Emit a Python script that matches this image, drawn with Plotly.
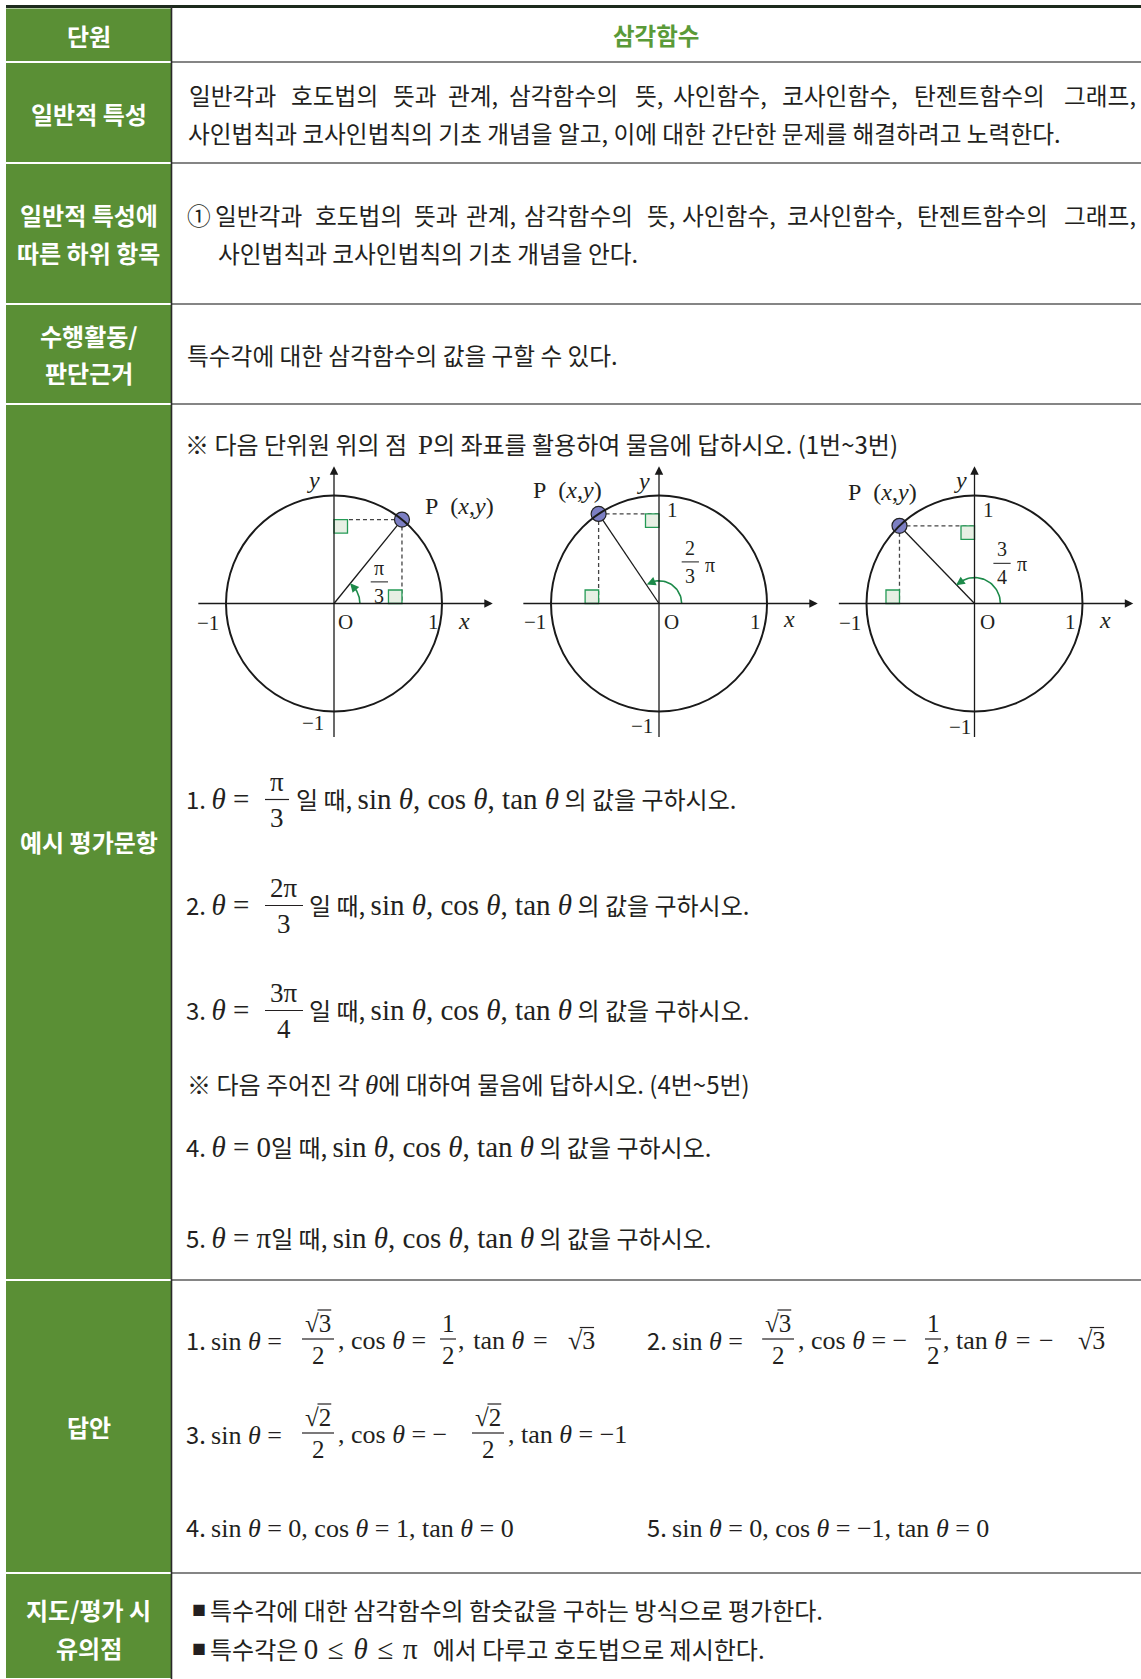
import numpy as np
import plotly.graph_objects as go

W, H = 1141, 1679

# ---------------------------------------------------------------- data
unit_title = "삼각함수"
row_bounds = [7.5, 62, 163, 304, 404, 1280, 1573, 1679]
row_labels = [["단원"], ["일반적 특성"], ["일반적 특성에", "따른 하위 항목"],
              ["수행활동/", "판단근거"], ["예시 평가문항"], ["답안"], ["지도/평가 시", "유의점"]]
label_y = [[35], [113.5], [214, 252.5], [335, 372.5], [841], [1426], [1609, 1647]]

general_line1 = ["일반각과", "호도법의", "뜻과", "관계,", "삼각함수의", "뜻,", "사인함수,",
                 "코사인함수,", "탄젠트함수의", "그래프,"]
general_line2 = "사인법칙과 코사인법칙의 기초 개념을 알고, 이에 대한 간단한 문제를 해결하려고 노력한다."
sub_line1 = ["①"] + general_line1
sub_line2 = "사인법칙과 코사인법칙의 기초 개념을 안다."
activity = "특수각에 대한 삼각함수의 값을 구할 수 있다."

# unit circle diagrams: angle of P as drawn (deg), angle label fraction
p_angle_deg = [51, 124, 134]
angle_num = ["π", "2", "3"]
angle_den = ["3", "3", "4"]
angle_has_pi = [False, True, True]
show_y_one = [False, True, True]

question_num = ["π", "2π", "3π"]
question_den = ["3", "3", "4"]

FONT = "Noto Sans CJK KR"
SERIF = "Liberation Serif"
GREEN = "#5a8f35"
TXT = "#231f20"
KS = 23.7   # korean body size
QK = 24     # korean size in question lines
QS = 29     # math size in questions
AS = 26     # math size in answers
S3 = "\u2004"  # three-per-em space

fig = go.Figure()
shapes = []
ann = []


def m(s, size=QS):
    return '<span style="font-family:%s;font-size:%spx">%s</span>' % (SERIF, size, s)


def txt(x, y, s, size=KS, anchor="left", color=TXT, family=FONT, xref="x", yref="y"):
    ann.append(dict(x=x, y=y, xref=xref, yref=yref, text=s, showarrow=False,
                    xanchor=anchor, yanchor="middle", font=dict(size=size, color=color, family=family)))


def hline(x0, x1, y, color="#555", width=1.5, xref="x", yref="y"):
    shapes.append(dict(type="line", x0=x0, x1=x1, y0=y, y1=y, xref=xref, yref=yref,
                       line=dict(color=color, width=width)))


def frac(xc, yc, num, den, w, size=26, dy=17):
    txt(xc, yc - dy, num, size=size, anchor="center", family=SERIF)
    txt(xc, yc + dy, den, size=size, anchor="center", family=SERIF)
    hline(xc - w / 2, xc + w / 2, yc, color=TXT, width=1.2)


def sqrt_bar(x0, y, size):
    # overline of the radical, over the digit starting at x0
    hline(x0 - 0.02 * size, x0 + 0.53 * size, y, color=TXT, width=1.2)


def root(x, y, digit, size=AS):
    txt(x, y, "√" + digit, size=size, family=SERIF)
    sqrt_bar(x + 0.549 * size, y - 0.48 * size, size)


def justify(words, x0, x1, y, size=KS):
    def wlen(w):
        return sum(0.27 if c in ",." else 1.0 for c in w)
    widths = [wlen(w) * size for w in words]
    gap = (x1 - x0 - sum(widths)) / (len(words) - 1)
    x = x0
    for w, wd in zip(words, widths):
        txt(x, y, w, size=size)
        x += wd + gap


# ---------------------------------------------------------------- table
for i in range(len(row_bounds) - 1):
    shapes.append(dict(type="rect", x0=6, x1=171, y0=row_bounds[i] + 1, y1=row_bounds[i + 1] - 1,
                       xref="x", yref="y", fillcolor=GREEN, line=dict(width=0), layer="below"))
    for lab, ly in zip(row_labels[i], label_y[i]):
        txt(88.5, ly, "<b>%s</b>" % lab, size=24, anchor="center", color="white")
for yb in row_bounds[1:-1]:
    hline(172, W, yb, color="#5c5c5c", width=1.6)
hline(6, W, 6.5, color="#1d2a1d", width=3)
shapes.append(dict(type="line", x0=171.5, x1=171.5, y0=6, y1=H, xref="x", yref="y",
                   line=dict(color="#2a2a2a", width=1.6)))

txt(656, 35, "<b>%s</b>" % unit_title, size=23.5, anchor="center", color="#5a9a38")
justify(general_line1, 187, 1139, 95)
txt(186, 133, general_line2)
justify(sub_line1, 185, 1139, 215)
txt(216, 253, sub_line2)
txt(185, 355, activity)

# ---------------------------------------------------------------- questions
txt(183, 443, "※ 다음 단위원 위의 점  " + m("P", 27) + "의 좌표를 활용하여 물음에 답하시오. (1번~3번)",
    size=QK)

q_y = [798.5, 904.5, 1009.5]
q_fx = [277, 284, 284]
q_rx = [294, 307, 307]
q_w = [24, 38, 38]
trig = "sin <i>θ</i>, cos <i>θ</i>, tan <i>θ</i>"
tail = m(trig) + " 의 값을 구하시오."
for k in range(3):
    txt(184, q_y[k], "%d. " % (k + 1) + m("<i>θ</i> ="), size=QK)
    frac(q_fx[k], q_y[k] + 1, question_num[k], question_den[k], q_w[k], size=27, dy=18)
    txt(q_rx[k], q_y[k], "일 때, " + tail, size=QK)

txt(185, 1083, "※ 다음 주어진 각 " + m("<i>θ</i>", 27) + "에 대하여 물음에 답하시오. (4번~5번)", size=QK)
txt(184, 1146, "4. " + m("<i>θ</i> = 0") + "일 때, " + tail, size=QK)
txt(184, 1237, "5. " + m("<i>θ</i> = π") + "일 때, " + tail, size=QK)

# ---------------------------------------------------------------- answers
ya, yb_, yc_ = 1340, 1434, 1527
FS = 25
txt(184, ya, "1. " + m("sin <i>θ</i> =", AS))
frac(318, ya - 1, "√3", "2", 32, size=FS, dy=16)
sqrt_bar(318, ya - 30, FS)
txt(336, ya, m(", cos <i>θ</i> =", AS))
frac(448, ya - 1, "1", "2", 16, size=FS, dy=16)
txt(456, ya, m("," + S3 + "tan <i>θ</i>" + S3 + "=", AS))
root(566, ya, "3")

txt(645, ya, "2. " + m("sin <i>θ</i> =", AS))
frac(778, ya - 1, "√3", "2", 32, size=FS, dy=16)
sqrt_bar(778, ya - 30, FS)
txt(796, ya, m(", cos <i>θ</i> = −", AS))
frac(933, ya - 1, "1", "2", 16, size=FS, dy=16)
txt(941, ya, m(", tan <i>θ</i>" + S3 + "=" + S3 + "−", AS))
root(1076, ya, "3")

txt(184, yb_, "3. " + m("sin <i>θ</i> =", AS))
frac(318, yb_ - 1, "√2", "2", 32, size=FS, dy=16)
sqrt_bar(318, yb_ - 30, FS)
txt(336, yb_, m(", cos <i>θ</i> = −", AS))
frac(488, yb_ - 1, "√2", "2", 32, size=FS, dy=16)
sqrt_bar(488, yb_ - 30, FS)
txt(506, yb_, m(", tan <i>θ</i> = −1", AS))

txt(184, yc_, "4. " + m("sin <i>θ</i> = 0, cos <i>θ</i> = 1, tan <i>θ</i> = 0", AS))
txt(645, yc_, "5. " + m("sin <i>θ</i> = 0, cos <i>θ</i> = −1, tan <i>θ</i> = 0", AS))

# ---------------------------------------------------------------- notes
txt(190, 1609, "■", size=14)
txt(208, 1609, "특수각에 대한 삼각함수의 함숫값을 구하는 방식으로 평가한다.", size=24)
txt(190, 1648, "■", size=14)
txt(208, 1648, "특수각은 " + m(S3.join(["0", "≤", "<i>θ</i>", "≤", "π"]) + S3, 29)
    + " 에서 다루고 호도법으로 제시한다.", size=24)

# ---------------------------------------------------------------- unit circles
R = 108.0
centers = [(334, 603.5), (659, 603.5), (974.5, 603.5)]
XR = (-1.3, 1.5)
YR = (-1.3, 1.35)
lab_xy = [
    dict(y=(-0.19, 1.14), P=(1.16, 0.9), m1x=(-1.17, -0.18), O=(0.11, -0.17), one=(0.92, -0.17),
         x=(1.2, -0.16), m1y=(-0.19, -1.11), yone=None, fr=(0.42, 0.2), pi=None),
    dict(y=(-0.145, 1.13), P=(-0.85, 1.05), m1x=(-1.15, -0.17), O=(0.12, -0.17), one=(0.89, -0.17),
         x=(1.2, -0.14), m1y=(-0.16, -1.13), yone=(0.125, 0.865), fr=(0.29, 0.385), pi=(0.47, 0.36)),
    dict(y=(-0.13, 1.14), P=(-0.85, 1.03), m1x=(-1.15, -0.185), O=(0.12, -0.17), one=(0.89, -0.17),
         x=(1.21, -0.155), m1y=(-0.13, -1.14), yone=(0.13, 0.865), fr=(0.255, 0.372), pi=(0.44, 0.365)),
]
arc_r = [0.24, 0.21, 0.24]
arc_end = [43, 114, 127]
sq = 0.125

for i, (cx, cy) in enumerate(centers):
    n = i + 2
    xa, ya_ = "x%d" % n, "y%d" % n
    fig.layout["xaxis%d" % n] = dict(domain=[(cx + XR[0] * R) / W, (cx + XR[1] * R) / W],
                                     range=list(XR), visible=False, anchor=ya_, fixedrange=True)
    fig.layout["yaxis%d" % n] = dict(domain=[(H - cy + YR[0] * R) / H, (H - cy + YR[1] * R) / H],
                                     range=list(YR), visible=False, anchor=xa, fixedrange=True)
    th = np.deg2rad(p_angle_deg[i])
    px_, py_ = np.cos(th), np.sin(th)
    shapes.append(dict(type="circle", xref=xa, yref=ya_, x0=-1, y0=-1, x1=1, y1=1,
                       line=dict(color="#1a1a1a", width=2)))
    ysx0, ysx1 = (0, sq) if px_ > 0 else (-sq, 0)
    shapes.append(dict(type="rect", xref=xa, yref=ya_, x0=ysx0, x1=ysx1, y0=py_ - sq, y1=py_,
                       fillcolor="#e7efe4", line=dict(color="#249a55", width=1.3)))
    shapes.append(dict(type="rect", xref=xa, yref=ya_, x0=px_ - sq, x1=px_, y0=0, y1=sq,
                       fillcolor="#e7efe4", line=dict(color="#249a55", width=1.3)))
    for (tx, ty, sx, sy) in [(1.47, 0, -1.27, 0), (0, 1.27, 0, -1.25)]:
        ann.append(dict(x=tx, y=ty, ax=sx, ay=sy, xref=xa, yref=ya_, axref=xa, ayref=ya_,
                        text="", showarrow=True, arrowhead=2, arrowsize=1.3, arrowwidth=1.3,
                        arrowcolor="#1a1a1a", standoff=0, startstandoff=0))
    for xs, ys in [([px_, px_], [py_, 0]), ([px_, 0], [py_, py_])]:
        fig.add_trace(go.Scatter(x=xs, y=ys, xaxis=xa, yaxis=ya_, mode="lines",
                                 line=dict(color="#444", width=1.3, dash="4px,3px"), hoverinfo="skip"))
    fig.add_trace(go.Scatter(x=[0, px_], y=[0, py_], xaxis=xa, yaxis=ya_, mode="lines",
                             line=dict(color="#1a1a1a", width=1.3), hoverinfo="skip"))
    a = np.deg2rad(np.linspace(0, arc_end[i], 30))
    fig.add_trace(go.Scatter(x=arc_r[i] * np.cos(a), y=arc_r[i] * np.sin(a), xaxis=xa, yaxis=ya_,
                             mode="lines", line=dict(color="#1d8a4a", width=1.6), hoverinfo="skip"))
    e = np.deg2rad(arc_end[i])
    b = np.deg2rad(arc_end[i] - 12)
    ann.append(dict(x=arc_r[i] * np.cos(e + 0.15), y=arc_r[i] * np.sin(e + 0.15),
                    ax=arc_r[i] * np.cos(b), ay=arc_r[i] * np.sin(b),
                    xref=xa, yref=ya_, axref=xa, ayref=ya_, text="", showarrow=True,
                    arrowhead=2, arrowsize=1.1, arrowwidth=1.6, arrowcolor="#1d8a4a", standoff=0))
    fig.add_trace(go.Scatter(x=[px_], y=[py_], xaxis=xa, yaxis=ya_, mode="markers",
                             marker=dict(size=15, color="#7c7fc3", line=dict(color="#222", width=1.2)),
                             hoverinfo="skip"))
    L = lab_xy[i]
    kw = dict(anchor="center", family=SERIF, xref=xa, yref=ya_)
    txt(*L["y"], "<i>y</i>", size=24, **kw)
    txt(*L["x"], "<i>x</i>", size=24, **kw)
    txt(*L["P"], "P\u2002(<i>x</i>,<i>y</i>)", size=24, **kw)
    txt(*L["m1x"], "−1", size=21, **kw)
    txt(*L["m1y"], "−1", size=21, **kw)
    txt(*L["O"], "O", size=21, **kw)
    txt(*L["one"], "1", size=21, **kw)
    if show_y_one[i]:
        txt(*L["yone"], "1", size=21, **kw)
    fx, fy = L["fr"]
    txt(fx, fy + 0.13, angle_num[i], size=20, **kw)
    txt(fx, fy - 0.13, angle_den[i], size=20, **kw)
    hline(fx - 0.08, fx + 0.08, fy, color="#1a1a1a", width=1, xref=xa, yref=ya_)
    if angle_has_pi[i]:
        txt(*L["pi"], "π", size=20, **kw)

fig.update_layout(
    width=W, height=H, margin=dict(l=0, r=0, t=0, b=0),
    paper_bgcolor="white", plot_bgcolor="white", showlegend=False,
    xaxis=dict(range=[0, W], domain=[0, 1], visible=False, fixedrange=True),
    yaxis=dict(range=[H, 0], domain=[0, 1], visible=False, fixedrange=True),
    shapes=shapes, annotations=ann,
)
fig.write_html("out.html", config={"displayModeBar": False},
               post_script="document.body.style.margin='0';document.body.style.overflow='hidden';")
